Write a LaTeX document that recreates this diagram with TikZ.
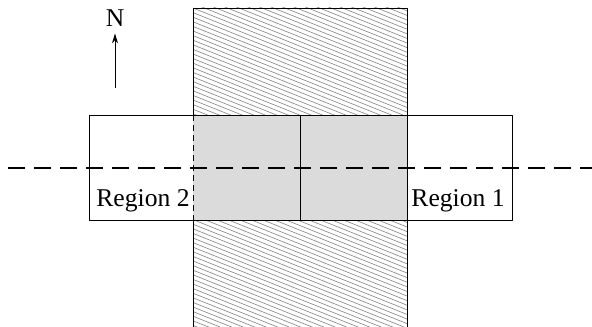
\documentclass[tikz,border=0pt]{standalone}
\usepackage{fontspec}
\setmainfont{Liberation Serif}
\usetikzlibrary{arrows.meta}
\begin{document}
\begin{tikzpicture}[x=0.5pt,y=-0.5pt,line join=round,>={Stealth[length=5pt,width=3pt]},font=\fontsize{12.8}{15}\selectfont]
	\def \sl{193};
	\def \sr{407};
	\def \rt{115};
	\def \rb{220};
	\useasboundingbox (0,0) rectangle (592,326);
	% hatched strip
	\begin{scope}
		\clip (\sl,8) rectangle (\sr,330);
		\foreach \k in {-20,...,72}{\draw[gray,line width=0.3pt] (\sl,{8+4.6*\k}) -- (\sr,{8+4.6*\k+85.6});}
	\end{scope}
	\draw[line width=0.4pt] (\sl,330) -- (\sl,8) -- (\sr,8) -- (\sr,330);
	% overlap
	\fill[black!14] (\sl,\rt) rectangle (\sr,\rb);
	\draw[line width=0.4pt] (89,\rt) rectangle (512,\rb);
	\draw[line width=0.5pt] (300,\rt) -- (300,\rb);
	\draw[line width=0.4pt,dash pattern=on 3pt off 2pt] (\sl,\rt) -- (\sl,\rb) (\sr,\rt) -- (\sr,\rb);
	\draw[line width=1pt,dash pattern=on 8.5pt off 4.5pt] (8,168) -- (592,168);
	\node[anchor=south west,inner sep=2pt] (reg2) at (92,216) {Region 2};
	\node[anchor=south east,inner sep=2pt] (reg1) at (509,216) {Region 1};
	% north
	\node (north) at (115,18) {N};
	\coordinate (tail) at (115,88);
	\draw[->,line width=0.5pt] (tail) -- (north.south);
\end{tikzpicture}
\end{document}
